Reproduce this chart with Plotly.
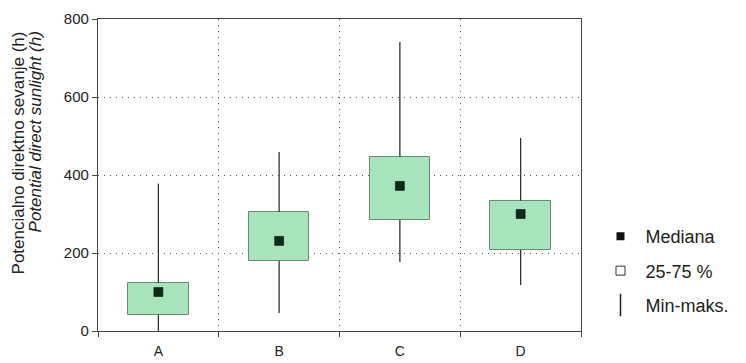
import plotly.graph_objects as go

categories = ["A", "B", "C", "D"]
q_min = [0, 46, 177, 118]
q1 = [42, 180, 285, 208]
median = [100, 231, 372, 300]
q3 = [123, 305, 446, 334]
q_max = [378, 459, 741, 495]

title_line1 = "Potencialno direktno sevanje (h)"
title_line2 = "<i>Potential direct sunlight (h)</i>"

fig = go.Figure()

# whiskers (min-max), drawn outside the boxes
wx, wy = [], []
for c, lo, a, b, hi in zip(categories, q_min, q1, q3, q_max):
    wx += [c, c, None, c, c, None]
    wy += [lo, a, None, b, hi, None]
fig.add_trace(go.Scatter(x=wx, y=wy, mode="lines", line=dict(color="#333333", width=1.3),
                         showlegend=False, hoverinfo="skip"))

# boxes 25-75 %
fig.add_trace(go.Bar(x=categories, y=[b - a for a, b in zip(q1, q3)], base=q1, width=0.5,
                     marker=dict(color="#a8e4bb", line=dict(color="#6a8a74", width=1)),
                     showlegend=False, hoverinfo="skip"))

# medians
fig.add_trace(go.Scatter(x=categories, y=median, mode="markers",
                         marker=dict(symbol="square", size=9, color="#0f2a18",
                                     line=dict(color="#000000", width=0.5)),
                         showlegend=False))

# legend entries
fig.add_trace(go.Scatter(x=[None], y=[None], mode="markers", name="Mediana", legendgroup="g1",
                         marker=dict(symbol="square", size=8, color="#111111")))
fig.add_trace(go.Scatter(x=[None], y=[None], mode="markers", name="25-75 %", legendgroup="g2",
                         marker=dict(symbol="square-open", size=9, color="#333333", line=dict(width=1))))
fig.add_trace(go.Scatter(x=[None], y=[None], mode="markers", name="Min-maks.", legendgroup="g3",
                         marker=dict(symbol="line-ns-open", size=18, color="#222222", line=dict(width=1.5))))

fig.update_layout(
    width=738, height=355,
    margin=dict(l=90, r=163, t=11, b=32),
    plot_bgcolor="white", paper_bgcolor="white",
    font=dict(family="Liberation Sans, Arial, sans-serif", size=13, color="#222222"),
    bargap=0,
    legend=dict(x=1.03, y=0.362, xanchor="left", yanchor="top",
                font=dict(size=18, color="#222222"), itemwidth=40, tracegroupgap=8,
                bgcolor="rgba(0,0,0,0)"),
)
fig.add_annotation(text=title_line1, xref="paper", yref="paper", x=0, y=0.965,
                   xshift=-80, xanchor="center", yanchor="top", textangle=-90,
                   showarrow=False, font=dict(size=17, color="#222222"))
fig.add_annotation(text=title_line2, xref="paper", yref="paper", x=0, y=0.965,
                   xshift=-63, xanchor="center", yanchor="top", textangle=-90,
                   showarrow=False, font=dict(size=17, color="#222222"))
fig.update_xaxes(
    type="category", categoryorder="array", categoryarray=categories,
    range=[-0.5, 3.5], tickson="boundaries", ticks="outside", ticklen=5,
    tickcolor="#444444", ticklabelstandoff=7, automargin=False,
    showline=True, linecolor="#444444", linewidth=1.2, mirror=True,
    showgrid=True, gridcolor="#555555", griddash="1px,5px", gridwidth=1,
    tickfont=dict(size=14),
)
fig.update_yaxes(
    range=[0, 800], tickvals=[0, 200, 400, 600, 800], ticks="outside", ticklen=5,
    tickcolor="#444444", automargin=False,
    showline=True, linecolor="#444444", linewidth=1.2, mirror=True,
    showgrid=True, gridcolor="#555555", griddash="1px,5px", gridwidth=1,
    zeroline=False, tickfont=dict(size=15),
)

fig.write_html("out.html")
